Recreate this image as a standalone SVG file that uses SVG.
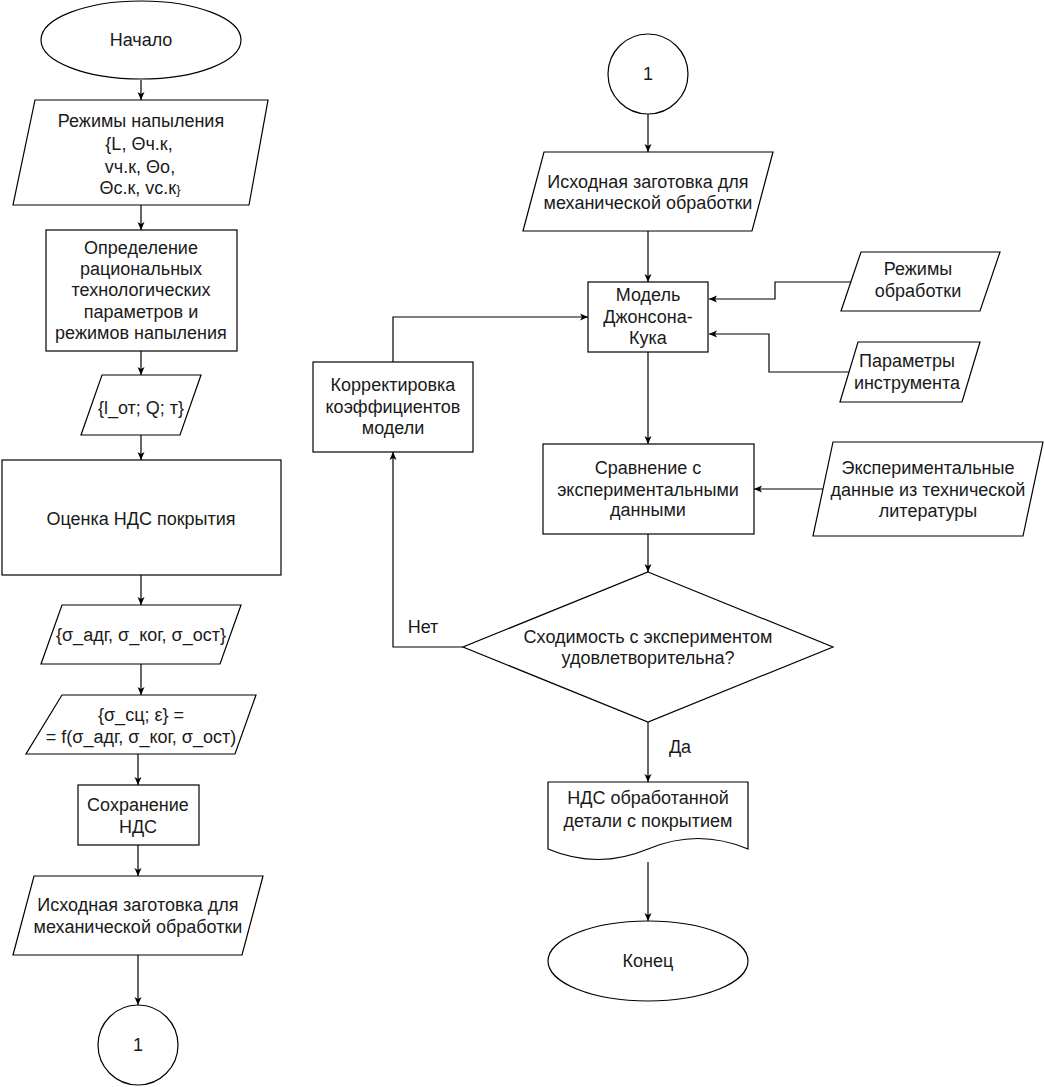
<svg xmlns="http://www.w3.org/2000/svg" width="1044" height="1087" viewBox="0 0 1044 1087">
<style>
.s{fill:#fff;stroke:#000;stroke-width:1.2}
.t{font-family:"Liberation Sans",Arial,sans-serif;font-size:18px;fill:#1a1a1a;text-anchor:middle}
.c{fill:none;stroke:#000;stroke-width:1.2}
</style>
<defs>
<marker id="a" markerUnits="userSpaceOnUse" viewBox="0 0 8 8" markerWidth="8" markerHeight="8" refX="8" refY="4" orient="auto">
<path d="M0,0.5 L8,4 L0,7.5 L2,4 Z" fill="#000"/>
</marker>
</defs>
<rect width="1044" height="1087" fill="#fff"/>
<g id="connectors">
<path class="c" marker-end="url(#a)" d="M141,80 V100"/>
<path class="c" marker-end="url(#a)" d="M141,205 V230"/>
<path class="c" marker-end="url(#a)" d="M141,351 V375"/>
<path class="c" marker-end="url(#a)" d="M141,435 V460"/>
<path class="c" marker-end="url(#a)" d="M141,575 V605"/>
<path class="c" marker-end="url(#a)" d="M141,664 V695"/>
<path class="c" marker-end="url(#a)" d="M138,754 V785"/>
<path class="c" marker-end="url(#a)" d="M138,845 V876"/>
<path class="c" marker-end="url(#a)" d="M138,955 V1005"/>
<path class="c" marker-end="url(#a)" d="M648,114 V152"/>
<path class="c" marker-end="url(#a)" d="M648,231 V282"/>
<path class="c" marker-end="url(#a)" d="M648,352 V444"/>
<path class="c" marker-end="url(#a)" d="M648,534 V572"/>
<path class="c" marker-end="url(#a)" d="M648,722 V782"/>
<path class="c" marker-end="url(#a)" d="M648,862 V921"/>
<path class="c" marker-end="url(#a)" d="M463,647 H393 V452"/>
<path class="c" marker-end="url(#a)" d="M393,362 V317 H588"/>
<path class="c" marker-end="url(#a)" d="M851,282 H775 V299 H709"/>
<path class="c" marker-end="url(#a)" d="M849,372 H769 V334 H709"/>
<path class="c" marker-end="url(#a)" d="M823,489 H754"/>
<text class="t" x="423" y="633">Нет</text>
<text class="t" x="680" y="753">Да</text>
</g>
<g id="start">
<ellipse class="s" cx="141" cy="40" rx="100" ry="39"/>
<text class="t" x="141" y="46">Начало</text>
</g>
<g id="spray-modes">
<polygon class="s" points="35,100 268,100 249,205 13,205"/>
<text class="t" x="141" y="127">Режимы напыления</text>
<text class="t" x="139" y="150">{L, Θч.к,</text>
<text class="t" x="140" y="173">vч.к, Θо,</text>
<text class="t" x="140" y="194">Θс.к, vс.к<tspan font-size="13">}</tspan></text>
</g>
<g id="rational-params">
<rect class="s" x="46" y="230" width="191" height="121"/>
<text class="t" x="141" y="254">Определение</text>
<text class="t" x="141" y="275">рациональных</text>
<text class="t" x="141" y="296">технологических</text>
<text class="t" x="141" y="318">параметров и</text>
<text class="t" x="141" y="339">режимов напыления</text>
</g>
<g id="l-q-t">
<polygon class="s" points="102,375 201,375 180,435 81,435"/>
<text class="t" x="141" y="414">{l_от; Q; т}</text>
</g>
<g id="stress-eval">
<rect class="s" x="2" y="460" width="279" height="115"/>
<text class="t" x="141" y="525">Оценка НДС покрытия</text>
</g>
<g id="sigma-set">
<polygon class="s" points="62,605 241,605 220,664 41,664"/>
<text class="t" x="141" y="641">{σ_адг, σ_ког, σ_ост}</text>
</g>
<g id="sigma-func">
<polygon class="s" points="62,695 256,695 235,754 26,754"/>
<text class="t" x="141" y="721">{σ_сц; ε} =</text>
<text class="t" x="141" y="743">= f(σ_адг, σ_ког, σ_ост)</text>
</g>
<g id="save-stress">
<rect class="s" x="78" y="785" width="121" height="60"/>
<text class="t" x="138" y="811">Сохранение</text>
<text class="t" x="138" y="833">НДС</text>
</g>
<g id="blank-left">
<polygon class="s" points="34,876 263,876 242,955 13,955"/>
<text class="t" x="138" y="911">Исходная заготовка для</text>
<text class="t" x="138" y="933">механической обработки</text>
</g>
<g id="connector-left">
<circle class="s" cx="138" cy="1045" r="40"/>
<text class="t" x="138" y="1051">1</text>
</g>
<g id="connector-right">
<circle class="s" cx="648" cy="74" r="40"/>
<text class="t" x="648" y="80">1</text>
</g>
<g id="blank-right">
<polygon class="s" points="544,152 773,152 752,231 523,231"/>
<text class="t" x="648" y="188">Исходная заготовка для</text>
<text class="t" x="648" y="209">механической обработки</text>
</g>
<g id="jc-model">
<rect class="s" x="588" y="282" width="120" height="70"/>
<text class="t" x="648" y="301">Модель</text>
<text class="t" x="648" y="323">Джонсона-</text>
<text class="t" x="648" y="344">Кука</text>
</g>
<g id="machining-modes">
<polygon class="s" points="861,252 1000,252 980,311 841,311"/>
<text class="t" x="918" y="275">Режимы</text>
<text class="t" x="918" y="297">обработки</text>
</g>
<g id="tool-params">
<polygon class="s" points="858,342 980,342 962,402 840,402"/>
<text class="t" x="907" y="367">Параметры</text>
<text class="t" x="907" y="389">инструмента</text>
</g>
<g id="compare">
<rect class="s" x="543" y="444" width="211" height="90"/>
<text class="t" x="648" y="474">Сравнение с</text>
<text class="t" x="648" y="496">экспериментальными</text>
<text class="t" x="648" y="516">данными</text>
</g>
<g id="exp-data">
<polygon class="s" points="833,442 1043,442 1023,536 813,536"/>
<text class="t" x="928" y="474">Экспериментальные</text>
<text class="t" x="928" y="496">данные из технической</text>
<text class="t" x="928" y="517">литературы</text>
</g>
<g id="correct-coeffs">
<rect class="s" x="313" y="362" width="160" height="90"/>
<text class="t" x="393" y="391">Корректировка</text>
<text class="t" x="393" y="413">коэффициентов</text>
<text class="t" x="393" y="434">модели</text>
</g>
<g id="decision">
<polygon class="s" points="648,572 833,647 648,722 463,647"/>
<text class="t" x="648" y="643">Сходимость с экспериментом</text>
<text class="t" x="648" y="664">удовлетворительна?</text>
</g>
<g id="result-doc">
<path class="s" d="M548,782 H748 V849 Q698,828 648,849 Q598,870 548,849 Z"/>
<text class="t" x="648" y="804">НДС обработанной</text>
<text class="t" x="648" y="827">детали с покрытием</text>
</g>
<g id="end">
<ellipse class="s" cx="648" cy="961" rx="100" ry="40"/>
<text class="t" x="648" y="967">Конец</text>
</g>
</svg>
